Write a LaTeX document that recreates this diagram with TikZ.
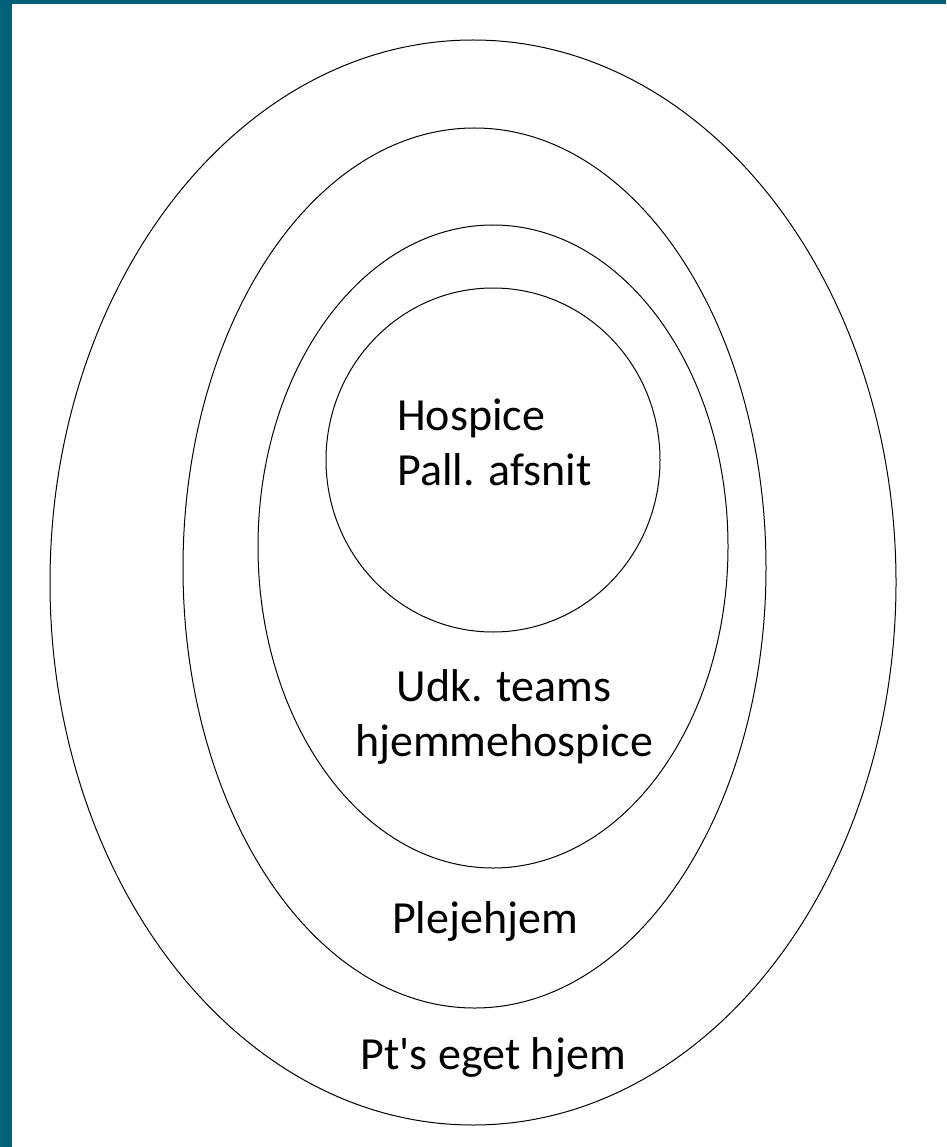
\documentclass[tikz,border=0pt]{standalone}
\usepackage{fontspec}
\setmainfont{Carlito}[Ligatures=TeXOff]
\usetikzlibrary{shapes.geometric}
\definecolor{frame}{RGB}{0,98,120}
\begin{document}
\begin{tikzpicture}[x=1pt,y=-1pt,
  ring/.style={draw=black,line width=1pt,ellipse,inner sep=0pt},
  lbl/.style={font=\fontsize{46}{55}\selectfont,inner sep=0pt,text=black}]
\useasboundingbox (0,0) rectangle (946,1147);
\fill[frame] (0,0) rectangle (946,1147);
\fill[white] (12,4) rectangle (946,1147);
\node[ring,minimum width=846pt,minimum height=1085pt] (outer) at (473,582.5) {};
\node[ring,minimum width=583pt,minimum height=880pt] (second) at (474.5,568) {};
\node[ring,minimum width=470pt,minimum height=643pt] (third) at (493,546.5) {};
\node[ring,minimum width=334pt,minimum height=344pt] (inner) at (493,460) {};
\node[lbl,align=left,anchor=west] (t1) at (397,442) {Hospice\\Pall. afsnit};
\node[lbl,align=center] (t2) at (504,717) {Udk. teams\\hjemmehospice};
\node[lbl] (t3) at (485,921) {Plejehjem};
\node[lbl] (t4) at (493,1057) {Pt's eget hjem};
\end{tikzpicture}
\end{document}
